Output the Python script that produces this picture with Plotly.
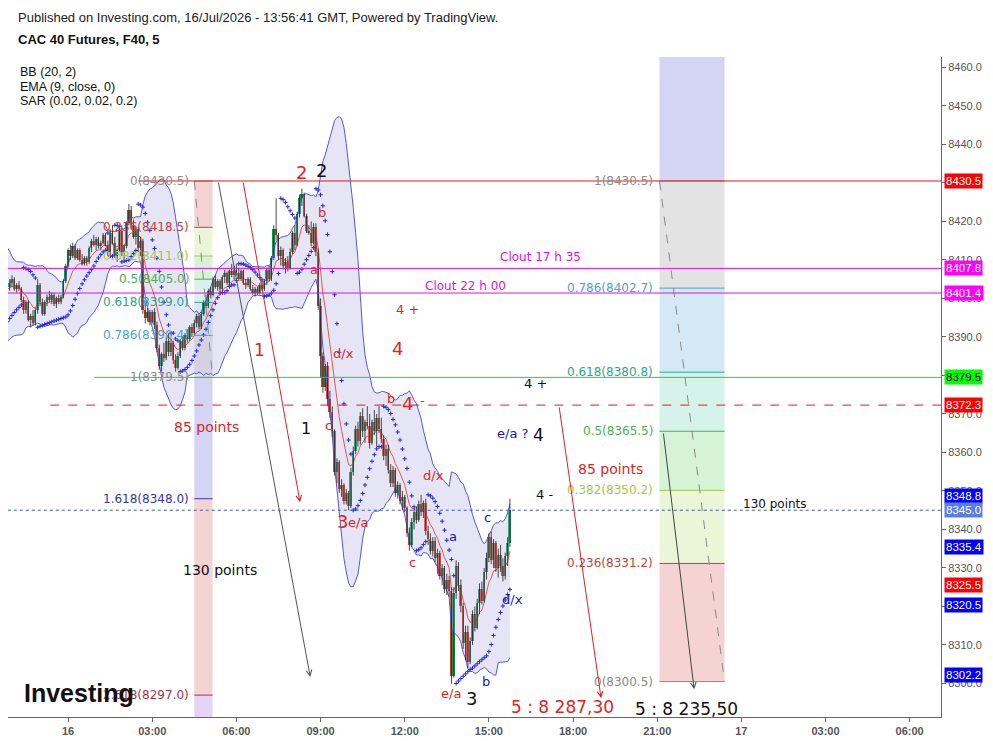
import pandas as pd
import plotly.graph_objects as go

# 5 minute candles, 15 Jul 20:15 -> 16 Jul 15:45 (first 20 are left of the view, for the BB warm-up)
opens = [
    8408, 8410, 8412, 8409, 8406, 8403, 8398, 8394, 8391, 8393, 8396, 8392, 8395, 8399, 8402, 8400, 8404, 8407, 8405, 8403,
    8403, 8404, 8405, 8402.5, 8403.5, 8402.5, 8399.5, 8397, 8399, 8394.5, 8395.5, 8393.5,
    8397, 8403.5, 8399, 8396, 8399, 8400.5, 8399.5, 8401, 8398.5, 8400, 8399, 8400.5,
    8404.5, 8408.5, 8412.5, 8411, 8413.5, 8410.5, 8412.5, 8410, 8409, 8410.5, 8409.5, 8413,
    8415, 8414, 8415.5, 8413.5, 8414.5, 8416.5, 8414, 8412, 8417, 8414.5, 8411, 8412.5,
    8417.5, 8412, 8413.5, 8419.5, 8423, 8419, 8416, 8418, 8413, 8415, 8397, 8395,
    8396.5, 8394, 8396.5, 8393, 8387, 8382.5, 8385.5, 8384.5, 8389, 8386, 8388.5, 8384,
    8382, 8385, 8389, 8387, 8390.5, 8389.5, 8392.5, 8391, 8393.5, 8395.5, 8392.5, 8396,
    8399, 8398, 8402, 8401, 8405, 8403, 8404.5, 8402.5, 8405.5, 8406.5, 8404, 8407,
    8406, 8407.5, 8406.5, 8405, 8407, 8404, 8403.5, 8405, 8402.5, 8401.5, 8402.5, 8401.5,
    8403.5, 8402.5, 8404.5, 8407.5, 8405, 8410.5, 8418, 8416.5, 8411, 8412.5, 8408.5, 8409.5,
    8408, 8412, 8417, 8414, 8422, 8426, 8427, 8421.5, 8417.5, 8417, 8414.5, 8418.5,
    8412, 8398, 8385, 8377, 8382.5, 8374, 8370.5, 8365.5, 8355, 8357.5, 8350.5, 8351.5,
    8347.5, 8349.5, 8346, 8355, 8360.5, 8366, 8363, 8369.5, 8365.5, 8368, 8367, 8362.5,
    8368, 8365.5, 8369, 8366, 8363.5, 8359, 8361, 8355.5, 8352, 8355.5, 8349.5, 8351.5,
    8347.5, 8348.5, 8345.5, 8339, 8336, 8342, 8344.5, 8342.5, 8346.5, 8344.5, 8347, 8339.5,
    8337.5, 8334.5, 8337, 8332.5, 8334, 8328, 8330, 8324.5, 8327, 8324, 8302, 8323.5,
    8330.5, 8325.5, 8320, 8310.5, 8313.5, 8305.5, 8311, 8318, 8314.5, 8321, 8324.5, 8321.5,
    8329, 8332.5, 8338, 8332, 8336.5, 8330, 8333.5, 8330.5, 8328, 8333, 8336.5,
]
highs = [
    8411, 8413, 8413, 8410, 8407, 8404, 8399, 8395, 8394, 8397, 8397, 8396, 8400, 8403, 8403, 8405, 8408, 8408, 8406, 8404,
    8405, 8406, 8405.5, 8404, 8404.5, 8403, 8400.5, 8399.5, 8399.5, 8396, 8397, 8397.5,
    8405, 8404, 8400, 8399.5, 8401, 8402, 8401.5, 8401.5, 8400.5, 8401, 8401, 8405,
    8409, 8413, 8414, 8414.5, 8414, 8413, 8413, 8411.5, 8411, 8411, 8413.5, 8415.5,
    8416.5, 8416, 8416, 8415, 8417, 8417, 8415, 8418, 8419, 8416, 8413, 8418,
    8419, 8414, 8420, 8424.5, 8424, 8420.5, 8418.5, 8418.5, 8416, 8415.5, 8399, 8397.5,
    8397, 8397, 8397.5, 8394, 8388, 8386, 8388.5, 8390, 8391, 8389.5, 8389, 8385.5,
    8386, 8389.5, 8390, 8391, 8392, 8393, 8393.5, 8394.5, 8396, 8396, 8396.5, 8399.5,
    8401, 8402.5, 8403, 8405.5, 8406, 8405, 8405, 8406, 8407.5, 8407, 8407.5, 8409,
    8408.5, 8409, 8408, 8407.5, 8407.5, 8405, 8405.5, 8405.5, 8403.5, 8403, 8403, 8404,
    8404.5, 8405, 8408, 8408.5, 8411, 8419, 8426, 8417, 8413.5, 8413, 8410.5, 8411,
    8413, 8417.5, 8419, 8422.5, 8427, 8428.5, 8427.5, 8422, 8419, 8420, 8419.5, 8419.5,
    8413, 8400, 8386, 8383, 8383.5, 8376, 8372, 8366, 8358.5, 8358, 8353, 8352,
    8350.5, 8350, 8356, 8361.5, 8367, 8368, 8370.5, 8371.5, 8368.5, 8372, 8370, 8368.5,
    8371, 8370, 8372, 8369, 8364.5, 8362, 8362, 8357, 8356.5, 8356, 8352.5, 8352,
    8350, 8349, 8346, 8340.5, 8343, 8345.5, 8346, 8347.5, 8349, 8347.5, 8348, 8341,
    8339, 8338, 8338, 8335, 8334.5, 8331, 8330.5, 8328.5, 8328, 8325, 8325, 8332,
    8331.5, 8327, 8321, 8315, 8315, 8312, 8319, 8320, 8322, 8326, 8326.5, 8330,
    8334, 8339, 8339.5, 8337.5, 8337, 8335, 8336, 8332.5, 8334, 8338, 8348,
]
lows = [
    8407, 8409, 8408, 8405, 8402, 8397, 8393, 8390, 8390, 8392, 8391, 8391, 8394, 8398, 8399, 8399, 8403, 8404, 8402, 8402,
    8402, 8403, 8402, 8401.5, 8402, 8399, 8396, 8396, 8394, 8392.5, 8393, 8393,
    8396, 8398, 8395.5, 8395.5, 8398, 8399, 8398.5, 8398, 8397.5, 8398.5, 8398.5, 8400,
    8404, 8408, 8410, 8410.5, 8410, 8410, 8409.5, 8408.5, 8408.5, 8408.5, 8409, 8412,
    8413.5, 8412.5, 8413, 8412.5, 8414, 8413.5, 8411, 8411.5, 8414, 8410.5, 8409.5, 8412,
    8411, 8410, 8413, 8419, 8418, 8415.5, 8414, 8412, 8411, 8396, 8393.5, 8394,
    8393, 8393.5, 8392, 8386, 8381.5, 8381, 8383.5, 8384, 8385, 8385, 8383, 8381,
    8381.5, 8384.5, 8386.5, 8386.5, 8388.5, 8389, 8390, 8390.5, 8392.5, 8392, 8392, 8395.5,
    8397.5, 8397.5, 8400, 8400.5, 8402.5, 8402, 8401.5, 8402, 8404, 8403.5, 8403.5, 8405.5,
    8405, 8406, 8404.5, 8404.5, 8403.5, 8402.5, 8403, 8402, 8401, 8400.5, 8401, 8401,
    8402, 8402, 8403.5, 8404.5, 8404.5, 8410, 8415, 8410, 8408.5, 8407.5, 8406.5, 8407,
    8407.5, 8411.5, 8412.5, 8413.5, 8421, 8424, 8421, 8417, 8416.5, 8413.5, 8414, 8411,
    8397, 8379.5, 8375.5, 8376, 8372, 8369, 8364, 8354, 8352, 8349.5, 8348.5, 8346.5,
    8346.5, 8345, 8345.5, 8354, 8359.5, 8361.5, 8362, 8364, 8362.5, 8366, 8361, 8362,
    8364.5, 8361.5, 8365, 8362.5, 8358, 8356.5, 8354.5, 8351, 8351, 8348.5, 8348, 8346.5,
    8345, 8344.5, 8338, 8334.5, 8335.5, 8340, 8341.5, 8342, 8343.5, 8343, 8338.5, 8336,
    8333.5, 8333, 8331.5, 8328.5, 8327, 8325.5, 8323.5, 8323, 8322.5, 8300, 8301.5, 8322,
    8324, 8318.5, 8309, 8306, 8304, 8305, 8310, 8313.5, 8314, 8318, 8320.5, 8321,
    8327, 8331.5, 8331, 8330, 8329, 8327.5, 8329, 8326.5, 8327, 8330.5, 8335.5,
]
closes = [
    8410, 8412, 8409, 8406, 8403, 8398, 8394, 8391, 8393, 8396, 8392, 8395, 8399, 8402, 8400, 8404, 8407, 8405, 8403, 8403,
    8404, 8405, 8402.5, 8403.5, 8402.5, 8399.5, 8397, 8399, 8394.5, 8395.5, 8393.5, 8397,
    8403.5, 8399, 8396, 8399, 8400.5, 8399.5, 8401, 8398.5, 8400, 8399, 8400.5, 8404.5,
    8408.5, 8412.5, 8411, 8413.5, 8410.5, 8412.5, 8410, 8409, 8410.5, 8409.5, 8413, 8415,
    8414, 8415.5, 8413.5, 8414.5, 8416.5, 8414, 8412, 8417, 8414.5, 8411, 8412.5, 8417.5,
    8412, 8413.5, 8419.5, 8423, 8419, 8416, 8418, 8413, 8415, 8397, 8395, 8396.5,
    8394, 8396.5, 8393, 8387, 8382.5, 8385.5, 8384.5, 8389, 8386, 8388.5, 8384, 8382,
    8385, 8389, 8387, 8390.5, 8389.5, 8392.5, 8391, 8393.5, 8395.5, 8392.5, 8396, 8399,
    8398, 8402, 8401, 8405, 8403, 8404.5, 8402.5, 8405.5, 8406.5, 8404, 8407, 8406,
    8407.5, 8406.5, 8405, 8407, 8404, 8403.5, 8405, 8402.5, 8401.5, 8402.5, 8401.5, 8403.5,
    8402.5, 8404.5, 8407.5, 8405, 8410.5, 8418, 8416.5, 8411, 8412.5, 8408.5, 8409.5, 8408,
    8412, 8417, 8414, 8422, 8426, 8427, 8421.5, 8417.5, 8417, 8414.5, 8418.5, 8412,
    8398, 8385, 8377, 8382.5, 8374, 8370.5, 8365.5, 8355, 8357.5, 8350.5, 8351.5, 8347.5,
    8349.5, 8346, 8355, 8360.5, 8366, 8363, 8369.5, 8365.5, 8368, 8367, 8362.5, 8368,
    8365.5, 8369, 8366, 8363.5, 8359, 8361, 8355.5, 8352, 8355.5, 8349.5, 8351.5, 8347.5,
    8348.5, 8345.5, 8339, 8336, 8342, 8344.5, 8342.5, 8346.5, 8344.5, 8347, 8339.5, 8337.5,
    8334.5, 8337, 8332.5, 8334, 8328, 8330, 8324.5, 8327, 8324, 8302, 8323.5, 8330.5,
    8325.5, 8320, 8310.5, 8313.5, 8305.5, 8311, 8318, 8314.5, 8321, 8324.5, 8321.5, 8329,
    8332.5, 8338, 8332, 8336.5, 8330, 8333.5, 8330.5, 8328, 8333, 8336.5, 8345,
]
times = pd.date_range("2026-07-15 20:15", periods=len(closes), freq="5min")

# drawn levels
fib_levels = [0, 0.236, 0.382, 0.5, 0.618, 0.786, 1, 1.618, 2.618, 3.618]
fib_left = (8430.5, 8379.5)    # level 0, level 1
fib_right = (8300.5, 8430.5)
hlines = [  # price, colour, dash, start
    (8430.5, "#e01818", "solid", "2026-07-16 02:30"),
    (8407.8, "#e010e0", "solid", "2026-07-15 21:51"),
    (8401.4, "#e010e0", "solid", "2026-07-15 21:51"),
    (8379.5, "#18dd18", "solid", "2026-07-16 00:56"),
    (8372.3, "#d42020", "dash", "2026-07-15 23:22"),
    (8345.0, "#3a5fb0", "dot", "2026-07-15 21:51"),
]
tag_prices = [8430.5, 8407.8, 8401.4, 8379.5, 8372.3, 8348.8, 8345.0, 8335.4, 8325.5, 8320.5, 8302.2]
tag_colors = ["#ff0000", "#ff00ff", "#ff00ff", "#00ff00", "#ff0000", "#0000ff", "#5b80dc",
              "#0000ff", "#ff0000", "#0000ff", "#0000ff"]
tick_times = ["2026-07-16 00:00", "2026-07-16 03:00", "2026-07-16 06:00", "2026-07-16 09:00",
              "2026-07-16 12:00", "2026-07-16 15:00", "2026-07-16 18:00", "2026-07-16 21:00",
              "2026-07-17 00:00", "2026-07-17 03:00", "2026-07-17 06:00"]
tick_text = ["16", "03:00", "06:00", "09:00", "12:00", "15:00", "18:00", "21:00", "17", "03:00", "06:00"]
x_range = ["2026-07-15 21:51:30", "2026-07-17 07:07"]
y_range = [8291.3, 8462.7]

RED, BLK, BLU, MAG = "#e02424", "#111111", "#1414cc", "#e010e0"
d16 = "2026-07-16 "
wave_labels = [  # text, time, price, colour, size
    ("2", d16 + "08:20", 8432.8, RED, 18), ("2", d16 + "09:01", 8433.1, BLK, 18),
    ("b", d16 + "09:03", 8422.4, RED, 13), ("a", d16 + "08:46", 8407.4, RED, 13),
    ("d/x", d16 + "09:50", 8385.8, RED, 13), ("4 +", d16 + "12:05", 8397.0, RED, 13),
    ("4", d16 + "11:44", 8386.9, RED, 18), ("b", d16 + "11:31", 8373.9, RED, 13),
    ("4", d16 + "12:07", 8372.8, RED, 18), ("-", d16 + "12:39", 8373.4, RED, 13),
    ("4 +", d16 + "16:39", 8378.0, BLK, 13), ("e/a ?", d16 + "15:50", 8364.8, BLU, 13),
    ("4", d16 + "16:46", 8364.6, BLK, 17), ("4 -", d16 + "16:58", 8349.2, BLK, 13),
    ("1", d16 + "06:49", 8386.6, RED, 17), ("1", d16 + "08:29", 8366.1, BLK, 16),
    ("c", d16 + "09:16", 8367.1, RED, 13), ("3", d16 + "09:46", 8342.2, RED, 18),
    ("e/a", d16 + "10:20", 8341.9, RED, 13), ("d/x", d16 + "13:01", 8354.0, RED, 13),
    ("a", d16 + "13:44", 8338.3, BLU, 13), ("c", d16 + "12:16", 8331.3, RED, 13),
    ("c", d16 + "14:58", 8343.0, BLU, 13), ("d/x", d16 + "15:50", 8321.9, BLU, 13),
    ("b", d16 + "14:54", 8300.6, BLU, 13), ("e/a", d16 + "13:39", 8297.5, RED, 13),
    ("3", d16 + "14:22", 8296.2, BLK, 18),
    ("5 : 8 287,30", d16 + "17:37", 8294.0, RED, 17), ("5 : 8 235,50", d16 + "22:02", 8293.4, BLK, 17),
    ("85 points", d16 + "04:56", 8366.7, RED, 14), ("85 points", d16 + "19:20", 8355.7, RED, 14),
    ("130 points", d16 + "05:25", 8329.6, BLK, 14), ("130 points", "2026-07-17 01:12", 8346.5, BLK, 12),
    ("Clout 17 h 35", d16 + "16:50", 8410.7, MAG, 12), ("Clout 22 h 00", d16 + "14:11", 8403.3, MAG, 12),
]
arrows = [  # tail time, tail price, head time, head price, colour
    (d16 + "05:21", 8430.5, d16 + "08:38", 8301.7, "#555555"),
    (d16 + "06:14", 8430.5, d16 + "08:16", 8347.1, "#e02020"),
    (d16 + "17:30", 8372.1, d16 + "19:00", 8296.2, "#e02020"),
    (d16 + "21:13", 8365.3, d16 + "22:19", 8298.5, "#444444"),
]

df = pd.DataFrame(dict(o=opens, h=highs, l=lows, c=closes), index=times)
mid = df.c.rolling(20).mean()
sd = df.c.rolling(20).std(ddof=0)
bb_up = (mid + 2 * sd)[19:]
bb_lo = (mid - 2 * sd)[19:]
ema9 = df.c.ewm(span=9, adjust=False).mean()


def psar(h, l, step=0.02, mx=0.2):
    out = [l[0]]
    up, af, ep = True, step, h[0]
    for i in range(1, len(h)):
        s = out[-1] + af * (ep - out[-1])
        if up:
            s = min(s, l[i - 1], l[max(i - 2, 0)])
            if l[i] < s:
                up, s, ep, af = False, ep, l[i], step
            elif h[i] > ep:
                ep, af = h[i], min(af + step, mx)
        else:
            s = max(s, h[i - 1], h[max(i - 2, 0)])
            if h[i] > s:
                up, s, ep, af = True, ep, h[i], step
            elif l[i] < ep:
                ep, af = l[i], min(af + step, mx)
        out.append(s)
    return out


sar = psar(highs, lows)

# candles drawn as wick lines + body bars
wick_x, wick_y = [], []
for t, h, l in zip(times, highs, lows):
    wick_x += [t, t, None]
    wick_y += [l, h, None]
body_base = [min(o, c) for o, c in zip(opens, closes)]
body_len = [max(abs(c - o), 0.25) for o, c in zip(opens, closes)]
body_col = ["#17924c" if c >= o else "#e2412b" for o, c in zip(opens, closes)]

fig = go.Figure()
fig.add_trace(go.Scatter(x=bb_up.index, y=bb_up, mode="lines", line=dict(color="#5656e0", width=1)))
fig.add_trace(go.Scatter(x=bb_lo.index, y=bb_lo, mode="lines", line=dict(color="#5656e0", width=1),
                         fill="tonexty", fillcolor="rgba(175,175,225,0.33)"))
fig.add_trace(go.Scatter(x=times, y=ema9, mode="lines", line=dict(color="#e04a3a", width=0.9)))
fig.add_trace(go.Scatter(x=times, y=sar, mode="markers",
                         marker=dict(symbol="cross-thin", size=3, line=dict(color="#2424d8", width=1))))
fig.add_trace(go.Scatter(x=wick_x, y=wick_y, mode="lines", line=dict(color="#1e1e1e", width=0.8)))
fig.add_trace(go.Bar(x=times, y=body_len, base=body_base, width=255000,
                     marker=dict(color=body_col, line=dict(width=0))))

shapes, notes = [], []

fib_fill = {0: "#f5d3d3", 0.236: "#ebf5d8", 0.382: "#d6f3d7", 0.5: "#d5f2eb", 0.618: "#d4e9f5",
            0.786: "#e3e3e3", 1: "#d4d5f4", 1.618: "#f5d3d3", 2.618: "#e6d4f5"}
fib_col = {0: "#8a8a8a", 0.236: "#c0443c", 0.382: "#a6c64c", 0.5: "#4caf50", 0.618: "#2aa88f",
           0.786: "#4d9fd0", 1: "#8a8a8a", 1.618: "#3535b5", 2.618: "#a8344a"}


def draw_fib(anchor, t0, t1, t_label, top_level):
    p0, p1 = anchor
    price = {lv: p0 + (p1 - p0) * lv for lv in fib_levels}
    for a, b in zip(fib_levels[:-1], fib_levels[1:]):
        if a > top_level:
            break
        shapes.append(dict(type="rect", xref="x", yref="y", x0=t0, x1=t1, y0=price[a], y1=price[b],
                           fillcolor=fib_fill[a], line_width=0, layer="below"))
    for lv in fib_levels:
        if lv > top_level:
            break
        shapes.append(dict(type="line", xref="x", yref="y", x0=t0, x1=t1, y0=price[lv], y1=price[lv],
                           line=dict(color=fib_col[lv], width=1)))
        notes.append(dict(x=t_label, y=price[lv], xref="x", yref="y", xanchor="right", yanchor="middle",
                          text=f"{lv:g}({price[lv]:.1f})", showarrow=False,
                          font=dict(family="DejaVu Sans", size=12, color=fib_col[lv])))
    hi, lo = max(price[0], price[1]), min(price[0], price[1])
    shapes.append(dict(type="line", xref="x", yref="y", x0=t0, x1=t1, y0=hi, y1=lo,
                       line=dict(color="#8a8a8a", width=1, dash="dash")))


draw_fib(fib_left, d16 + "04:30", d16 + "05:09", d16 + "04:23", 2.618)
draw_fib(fib_right, d16 + "21:05", d16 + "23:24", d16 + "20:56", 1)

for p, col, dash, start in hlines:
    shapes.append(dict(type="line", xref="x", yref="y", x0=start, x1=x_range[1], y0=p, y1=p,
                       line=dict(color=col, width=1, dash=dash)))

for tt, tp, ht, hp, col in arrows:
    notes.append(dict(x=ht, y=hp, ax=tt, ay=tp, xref="x", yref="y", axref="x", ayref="y", text="",
                      showarrow=True, arrowhead=5, arrowsize=1.1, arrowwidth=1, arrowcolor=col, standoff=0))

for txt, t, p, col, size in wave_labels:
    notes.append(dict(x=t, y=p, xref="x", yref="y", text=txt, showarrow=False,
                      font=dict(family="DejaVu Sans", size=size, color=col)))

for p, col in zip(tag_prices, tag_colors):
    notes.append(dict(x=1, y=p, xref="paper", yref="y", xanchor="left", yanchor="middle", xshift=3,
                      text=f"{p:.1f}", showarrow=False, bgcolor=col, borderpad=1,
                      font=dict(family="Liberation Sans", size=11.5,
                                color="black" if col == "#00ff00" else "white")))

# header / watermark, placed on the paper
notes += [
    dict(x=0.0086, y=1.0606, text="Published on Investing.com, 16/Jul/2026 - 13:56:41 GMT, Powered by TradingView.",
         font=dict(family="Liberation Sans", size=13, color="#222")),
    dict(x=0.0086, y=1.0258, text="<b>CAC 40 Futures, F40, 5</b>",
         font=dict(family="Liberation Sans", size=13, color="#111")),
    dict(x=0.0107, y=0.9773, text="BB (20, 2)", font=dict(family="Liberation Sans", size=12.5, color="#111")),
    dict(x=0.0107, y=0.9545, text="EMA (9, close, 0)", font=dict(family="Liberation Sans", size=12.5, color="#111")),
    dict(x=0.0107, y=0.9333, text="SAR (0.02, 0.02, 0.2)", font=dict(family="Liberation Sans", size=12.5, color="#111")),
    dict(x=0.0150, y=0.036, text="<b>Investing</b>", font=dict(family="Liberation Sans", size=25, color="#111")),
]
for n in notes[-6:]:
    n.update(xref="paper", yref="paper", xanchor="left", yanchor="middle", showarrow=False)

# the page adds an 8px body margin, so the figure is 8px smaller than the window
fig.update_layout(
    width=985, height=733, margin=dict(l=0, r=52, t=49, b=24),
    paper_bgcolor="white", plot_bgcolor="white", showlegend=False, hovermode=False,
    shapes=shapes, annotations=notes, bargap=0,
    xaxis=dict(type="date", range=x_range, tickvals=tick_times, ticktext=tick_text,
               showgrid=False, zeroline=False, showline=True, linecolor="#666", linewidth=1,
               ticks="outside", ticklen=4, tickcolor="#666",
               tickfont=dict(family="Liberation Sans", size=11, color="#555", weight="bold")),
    yaxis=dict(side="right", range=y_range, tickvals=list(range(8300, 8461, 10)),
               ticktext=[f"{v:.1f}" for v in range(8300, 8461, 10)],
               showgrid=False, zeroline=False, showline=True, linecolor="#666", linewidth=1,
               ticks="outside", ticklen=4, tickcolor="#666",
               tickfont=dict(family="Liberation Sans", size=11, color="#555")),
)

fig.write_html("out.html")
